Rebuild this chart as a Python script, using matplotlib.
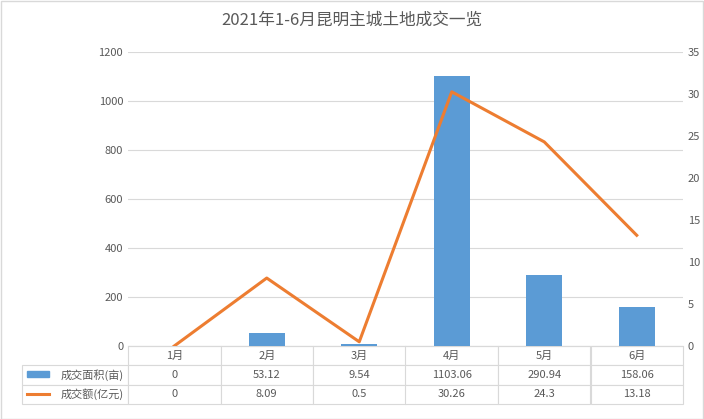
import matplotlib.pyplot as plt
from matplotlib.lines import Line2D
from matplotlib.patches import Rectangle

plt.rcParams['font.family'] = 'Noto Sans CJK SC'

months = ['1月', '2月', '3月', '4月', '5月', '6月']
area = [0, 53.12, 9.54, 1103.06, 290.94, 158.06]
amount = [0, 8.09, 0.5, 30.26, 24.3, 13.18]
area_label = '成交面积(亩)'
amount_label = '成交额(亿元)'

blue = '#5b9bd5'
orange = '#ed7d31'
tc = '#595959'

fig = plt.figure(figsize=(7.04, 4.19), dpi=100)
ax = fig.add_axes([128 / 704, 1 - 346 / 419, 555 / 704, 294 / 419])
ax2 = ax.twinx()

x = list(range(len(months)))
ax.bar(x, area, width=0.39, color=blue, zorder=3)
ax2.plot(x, amount, color=orange, lw=2.2, zorder=4)

ax.set_xlim(-0.5, 5.5)
ax.set_ylim(0, 1200)
ax.set_yticks(range(0, 1201, 200))
ax2.set_ylim(0, 35)
ax2.set_yticks(range(0, 36, 5))
ax.set_xticks([])
ax.grid(axis='y', color='#d9d9d9', lw=0.8, zorder=0)
for a in (ax, ax2):
    for s in a.spines.values():
        s.set_visible(False)
    a.tick_params(length=0, labelsize=8, colors=tc)
ax.spines['bottom'].set_visible(True)
ax.spines['bottom'].set_color('#d9d9d9')

fig.text(0.5, 1 - 20 / 419, '2021年1-6月昆明主城土地成交一览', ha='center', va='center',
         fontsize=12, color=tc)

# data table under the axes
rows = [[''] + months,
        [area_label] + ['%g' % v for v in area],
        [amount_label] + ['%g' % v for v in amount]]
tab = ax.table(cellText=rows, bbox=[-106 / 555, -58 / 294, 661 / 555, 58 / 294],
               cellLoc='center', colWidths=[106] + [92.5] * 6)
tab.auto_set_font_size(False)
for (r, c), cell in tab.get_celld().items():
    cell.set_edgecolor('#d9d9d9')
    cell.set_linewidth(0.8)
    cell.get_text().set_fontsize(8)
    cell.get_text().set_color(tc)
    if r == 0 and c == 0:
        cell.visible_edges = ''
    if c == 0 and r > 0:
        cell.get_text().set_ha('left')
        cell.PAD = 0.36

# legend keys inside table
ax.add_patch(Rectangle((-101 / 555, -31 / 294), 22 / 555, 6 / 294, color=blue,
                       transform=ax.transAxes, clip_on=False))
ax.add_line(Line2D([-101 / 555, -79 / 555], [-48 / 294, -48 / 294], color=orange, lw=2.2,
                   transform=ax.transAxes, clip_on=False))

fig.patches.append(Rectangle((0.001, 0.001), 0.998, 0.997, fill=False, ec='#d9d9d9',
                             lw=1, transform=fig.transFigure))
fig.savefig('out.png', dpi=100)
